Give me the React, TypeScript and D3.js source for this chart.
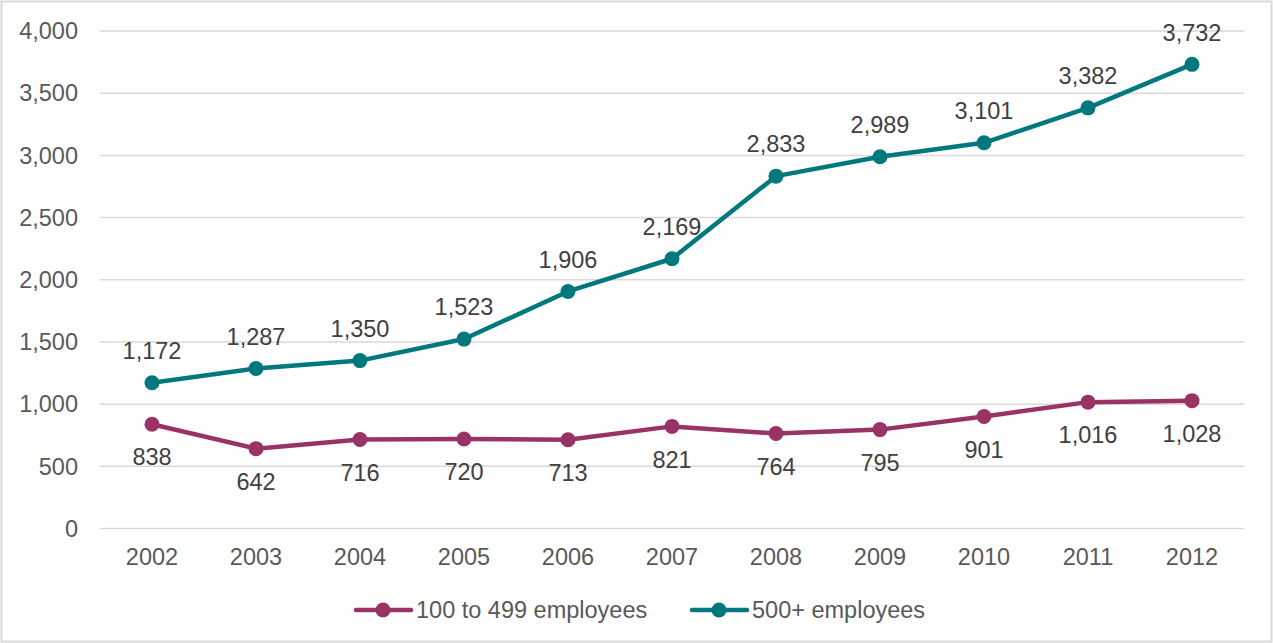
import React from "react";
import * as d3 from "d3";

const years = ["2002","2003","2004","2005","2006","2007","2008","2009","2010","2011","2012"];
const mid = [838, 642, 716, 720, 713, 821, 764, 795, 901, 1016, 1028];
const large = [1172, 1287, 1350, 1523, 1906, 2169, 2833, 2989, 3101, 3382, 3732];
const yTicks = [0, 500, 1000, 1500, 2000, 2500, 3000, 3500, 4000];
const seriesNames = ["100 to 499 employees", "500+ employees"];

const W = 1273, H = 643;
const C1 = "#993366", C2 = "#00787D";
const TXT = "#595959";
const FONT = "'Liberation Sans', Arial, sans-serif";
const FS = 23.5;

export default function App() {
  const x = d3.scaleBand().domain(years).range([100, 1244]);
  const y = d3.scaleLinear().domain([0, 4000]).range([528.5, 31]);
  const cx = (d: string) => (x(d) as number) + x.bandwidth() / 2;
  const line = d3.line<number>().x((_, i) => cx(years[i])).y((v) => y(v));
  const fmt = d3.format(",");
  return (
    <svg width={W} height={H} style={{ position: "absolute", left: 0, top: 0 }} fontFamily={FONT}>
      <rect x={1.5} y={1.5} width={W - 3} height={H - 3} fill="#fff" stroke="#d9d9d9" strokeWidth={2} />
      {yTicks.map((t) => (
        <g key={t}>
          <line x1={100} x2={1244} y1={y(t)} y2={y(t)} stroke="#d9d9d9" strokeWidth={1.5} />
          <text x={78} y={y(t)} dy="0.35em" textAnchor="end" fontSize={FS} fill={TXT}>{fmt(t)}</text>
        </g>
      ))}
      {years.map((yr) => (
        <text key={yr} x={cx(yr)} y={557} dy="0.35em" textAnchor="middle" fontSize={FS} fill={TXT}>{yr}</text>
      ))}
      <path d={line(mid) || ""} fill="none" stroke={C1} strokeWidth={4.5} strokeLinejoin="round" strokeLinecap="round" />
      <path d={line(large) || ""} fill="none" stroke={C2} strokeWidth={4.5} strokeLinejoin="round" strokeLinecap="round" />
      {mid.map((v, i) => (
        <g key={"m" + i}>
          <circle cx={cx(years[i])} cy={y(v)} r={7.5} fill={C1} />
          <text x={cx(years[i])} y={y(v) + 33} dy="0.35em" textAnchor="middle" fontSize={FS} fill="#404040">{fmt(v)}</text>
        </g>
      ))}
      {large.map((v, i) => (
        <g key={"l" + i}>
          <circle cx={cx(years[i])} cy={y(v)} r={7.5} fill={C2} />
          <text x={cx(years[i])} y={y(v) - 32} dy="0.35em" textAnchor="middle" fontSize={FS} fill="#404040">{fmt(v)}</text>
        </g>
      ))}
      {[C1, C2].map((c, i) => {
        const x0 = i === 0 ? 356 : 692;
        return (
          <g key={"lg" + i}>
            <line x1={x0} x2={x0 + 55} y1={610} y2={610} stroke={c} strokeWidth={4.5} strokeLinecap="round" />
            <circle cx={x0 + 27} cy={610} r={7.5} fill={c} />
            <text x={x0 + 60} y={610} dy="0.35em" fontSize={FS} fill={TXT}>{seriesNames[i]}</text>
          </g>
        );
      })}
    </svg>
  );
}
